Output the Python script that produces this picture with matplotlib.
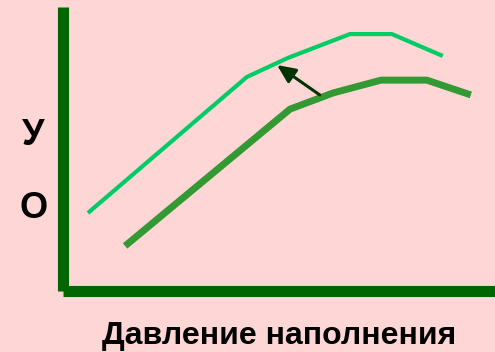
import matplotlib.pyplot as plt

# кривые (условные единицы, 0..100)
x_new = [5.7, 42.5, 52.0, 66.4, 76.1, 87.9]
y_new = [27.6, 75.4, 82.1, 90.5, 90.5, 82.8]
x_old = [14.3, 52.5, 62.5, 73.6, 84.2, 94.4]
y_old = [16.0, 64.1, 69.8, 74.3, 74.3, 69.1]
arrow_from = (59.4, 69.1)
arrow_to = (49.5, 79.6)
y_labels = ['О', 'У']
y_label_pos = [29.0, 55.0]
xlabel = 'Давление наполнения'

bg = '#FFD6D6'
fig = plt.figure(figsize=(4.95, 3.52), dpi=100, facecolor=bg)
ax = fig.add_axes([0.128, 0.172, 0.872, 0.808], facecolor=bg)

ax.plot(x_new, y_new, color='#00CC66', linewidth=3.0, solid_capstyle='butt')
ax.plot(x_old, y_old, color='#339933', linewidth=5.0, solid_capstyle='butt')
ax.annotate('', xy=arrow_to, xytext=arrow_from,
            arrowprops=dict(arrowstyle='-|>,head_length=1.1,head_width=0.5',
                            color='#003300', lw=2.2, shrinkA=0, shrinkB=0))

for lab, yv in zip(y_labels, y_label_pos):
    ax.text(-7, yv, lab, ha='center', va='center', fontsize=26,
            fontweight='bold', family='Liberation Sans', clip_on=False)

ax.set_xlim(0, 100)
ax.set_ylim(0, 100)
ax.set_xticks([])
ax.set_yticks([])
for s in ['top', 'right']:
    ax.spines[s].set_visible(False)
for s in ['left', 'bottom']:
    ax.spines[s].set_color('#006600')
    ax.spines[s].set_linewidth(8)
    ax.spines[s].set_capstyle('butt')
ax.set_xlabel(xlabel, fontsize=23, fontweight='bold', family='Liberation Sans',
              labelpad=21)

fig.savefig('out.png', dpi=100, facecolor=bg)
